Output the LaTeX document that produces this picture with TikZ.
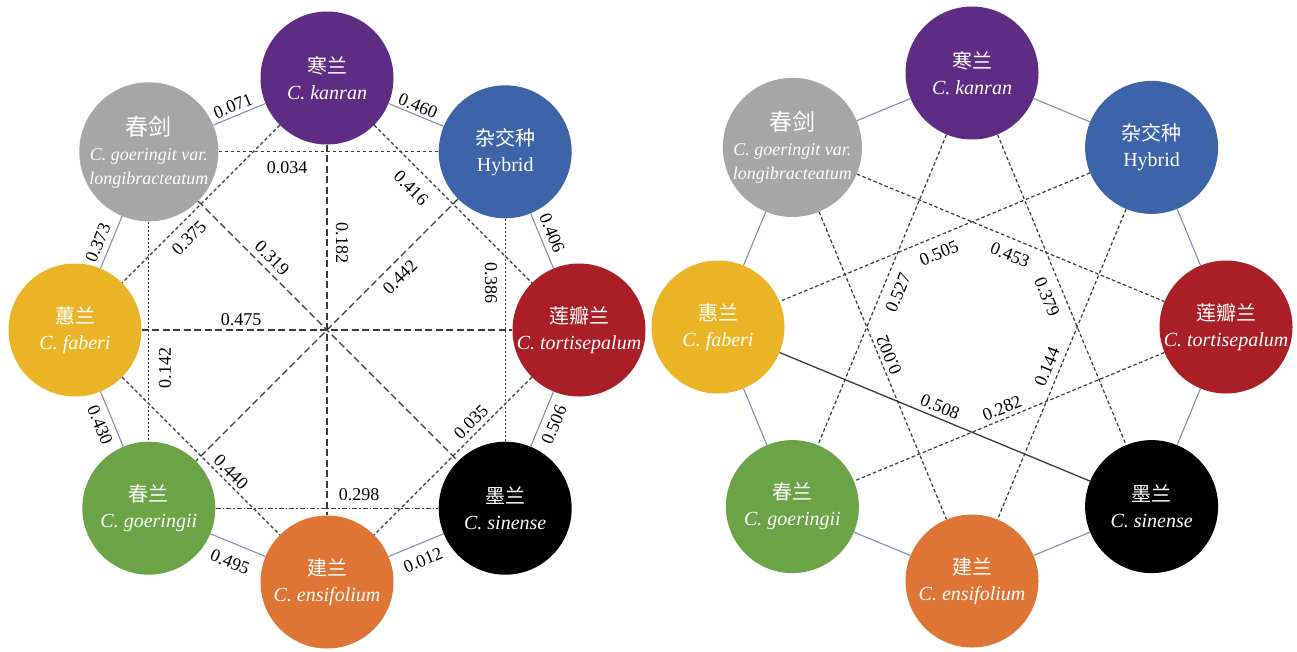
\documentclass[tikz,border=0pt]{standalone}
\usepackage{fontspec}
\setmainfont{Liberation Serif}
\newfontfamily\cjk{Noto Sans CJK SC}
\usetikzlibrary{calc}
\definecolor{cpurple}{HTML}{5F2C83}
\definecolor{cgray}{HTML}{A6A6A6}
\definecolor{cblue}{HTML}{3D64A8}
\definecolor{cred}{HTML}{AA1F25}
\definecolor{cyellow}{HTML}{EBB426}
\definecolor{cgreen}{HTML}{6BA446}
\definecolor{cblack}{HTML}{000000}
\definecolor{corange}{HTML}{DF7534}
\definecolor{adjcol}{HTML}{8290B0}
\definecolor{linecol}{HTML}{3A3A3A}
\newcommand{\gname}{{\cjk\fontsize{23}{24}\selectfont 春剑}\\[-1pt]{\fontsize{18}{20}\selectfont\textit{C. goeringit var.}}\\[-2pt]{\fontsize{18}{20}\selectfont\textit{longibracteatum}}}
\tikzset{
  x=1pt,y=1pt,
  sp/.style={circle, minimum size=133pt, inner sep=0pt, text=white, align=center,
    font=\fontsize{20}{26}\selectfont},
  adjline/.style={draw=adjcol, line width=1.1pt},
  longdash/.style={draw=linecol, line width=1.2pt, dash pattern=on 7pt off 3.5pt},
  shortdash/.style={draw=linecol, line width=1.2pt, dash pattern=on 3.5pt off 2.5pt},
  densedash/.style={draw=linecol, line width=1.2pt, dash pattern=on 2.5pt off 1.5pt},
  dashdotline/.style={draw=linecol, line width=1.2pt, dash pattern=on 5pt off 2pt on 1.5pt off 2pt},
  solidline/.style={draw=linecol, line width=1.3pt},
  lbl/.style={font=\fontsize{18}{18}\selectfont, text=black, inner sep=0pt},
}
\begin{document}
\begin{tikzpicture}
\useasboundingbox (0,0) rectangle (1297,-651);
\fill[white] (0,0) rectangle (1297,-651);
\coordinate (c1) at (327,-330);
\coordinate (c2) at (972,-327);
% left
\node[sp, fill=cpurple] (Lk) at ($(c1)+(90:252)$) {{\cjk 寒兰}\\\textit{C. kanran}};
\node[sp, fill=cblue]   (Lh) at ($(c1)+(45:252)$) {{\cjk 杂交种}\\Hybrid};
\node[sp, fill=cred]    (Lt) at ($(c1)+(0:252)$) {{\cjk 莲瓣兰}\\\textit{C. tortisepalum}};
\node[sp, fill=cblack]  (Ls) at ($(c1)+(-45:252)$) {{\cjk 墨兰}\\\textit{C. sinense}};
\node[sp, fill=corange] (Le) at ($(c1)+(-90:252)$) {{\cjk 建兰}\\\textit{C. ensifolium}};
\node[sp, fill=cgreen]  (Lg) at ($(c1)+(-135:252)$) {{\cjk 春兰}\\\textit{C. goeringii}};
\node[sp, fill=cyellow] (Lf) at ($(c1)+(180:252)$) {{\cjk 蕙兰}\\\textit{C. faberi}};
\node[sp, fill=cgray]   (Lv) at ($(c1)+(135:252)$) {\gname};
% right
\node[sp, fill=cpurple] (Rk) at ($(c2)+(90:254)$) {{\cjk 寒兰}\\\textit{C. kanran}};
\node[sp, fill=cblue]   (Rh) at ($(c2)+(45:254)$) {{\cjk 杂交种}\\Hybrid};
\node[sp, fill=cred]    (Rt) at ($(c2)+(0:254)$) {{\cjk 莲瓣兰}\\\textit{C. tortisepalum}};
\node[sp, fill=cblack]  (Rs) at ($(c2)+(-45:254)$) {{\cjk 墨兰}\\\textit{C. sinense}};
\node[sp, fill=corange] (Re) at ($(c2)+(-90:254)$) {{\cjk 建兰}\\\textit{C. ensifolium}};
\node[sp, fill=cgreen]  (Rg) at ($(c2)+(-135:254)$) {{\cjk 春兰}\\\textit{C. goeringii}};
\node[sp, fill=cyellow] (Rf) at ($(c2)+(180:254)$) {{\cjk 惠兰}\\\textit{C. faberi}};
\node[sp, fill=cgray]   (Rv) at ($(c2)+(135:254)$) {\gname};
% ---------- adjacent lines ----------
\draw[adjline] (Lv) -- (Lk);
\draw[adjline] (Lk) -- (Lh);
\draw[adjline] (Lh) -- (Lt);
\draw[adjline] (Lt) -- (Ls);
\draw[adjline] (Ls) -- (Le);
\draw[adjline] (Le) -- (Lg);
\draw[adjline] (Lg) -- (Lf);
\draw[adjline] (Lf) -- (Lv);
\draw[adjline] (Rv) -- (Rk);
\draw[adjline] (Rk) -- (Rh);
\draw[adjline] (Rh) -- (Rt);
\draw[adjline] (Rt) -- (Rs);
\draw[adjline] (Rs) -- (Re);
\draw[adjline] (Re) -- (Rg);
\draw[adjline] (Rg) -- (Rf);
\draw[adjline] (Rf) -- (Rv);
% ---------- left cross lines ----------
\draw[shortdash] (Lv) -- (Lh);
\draw[shortdash] (Lk) -- (Lf);
\draw[shortdash] (Lk) -- (Lt);
\draw[densedash] (Lv) -- (Lg);
\draw[densedash] (Lh) -- (Ls);
\draw[longdash] (Lk) -- (Le);
\draw[longdash] (Lf) -- (Lt);
\draw[longdash] (Lv) -- (Ls);
\draw[longdash] (Lh) -- (Lg);
\draw[shortdash] (Lf) -- (Le);
\draw[shortdash] (Lt) -- (Le);
\draw[dashdotline] (Lg) -- (Ls);
% ---------- right cross lines ----------
\draw[shortdash] (Rv) -- (Rt);
\draw[shortdash] (Rh) -- (Rf);
\draw[shortdash] (Rk) -- (Rg);
\draw[shortdash] (Rk) -- (Rs);
\draw[shortdash] (Rv) -- (Re);
\draw[shortdash] (Rh) -- (Re);
\draw[shortdash] (Rt) -- (Rg);
\draw[solidline] (Rf) -- (Rs);
% ---------- left labels ----------
\node[lbl, rotate=22.5]  (a071) at (233,-106) {0.071};
\node[lbl, rotate=-22.5] (a460) at (418,-106) {0.460};
\node[lbl, rotate=-67.5] (a406) at (552,-233) {0.406};
\node[lbl, rotate=67.5]  (a506) at (554,-425) {0.506};
\node[lbl, rotate=22.5]  (a012) at (423,-560) {0.012};
\node[lbl, rotate=-22.5] (a495) at (230,-562) {0.495};
\node[lbl, rotate=-67.5] (a430) at (100,-425) {0.430};
\node[lbl, rotate=67.5]  (a373) at (98,-243) {0.373};
\node[lbl] (a034) at (287,-168) {0.034};
\node[lbl, rotate=45]  (a375) at (189,-238) {0.375};
\node[lbl, rotate=-45] (a416) at (411,-188) {0.416};
\node[lbl, rotate=-45] (a319) at (272,-258) {0.319};
\node[lbl, rotate=-90] (a182) at (342,-243) {0.182};
\node[lbl, rotate=45]  (a442) at (400,-277) {0.442};
\node[lbl, rotate=-90] (a386) at (491,-283) {0.386};
\node[lbl] (a475) at (241,-320) {0.475};
\node[lbl, rotate=90]  (a142) at (165,-368) {0.142};
\node[lbl, rotate=-45] (a440) at (231,-472) {0.440};
\node[lbl, rotate=45]  (a035) at (471,-422) {0.035};
\node[lbl] (a298) at (359,-495) {0.298};
% ---------- right labels ----------
\node[lbl, rotate=22.5]  (b505) at (939,-253) {0.505};
\node[lbl, rotate=-22.5] (b453) at (1010,-255) {0.453};
\node[lbl, rotate=67.5]  (b527) at (898,-293) {0.527};
\node[lbl, rotate=-67.5] (b379) at (1047,-297) {0.379};
\node[lbl, rotate=112.5] (b002) at (889,-355) {0.002};
\node[lbl, rotate=67.5]  (b144) at (1047,-367) {0.144};
\node[lbl, rotate=-22.5] (b508) at (940,-407) {0.508};
\node[lbl, rotate=22.5]  (b282) at (1002,-408) {0.282};
\end{tikzpicture}
\end{document}
